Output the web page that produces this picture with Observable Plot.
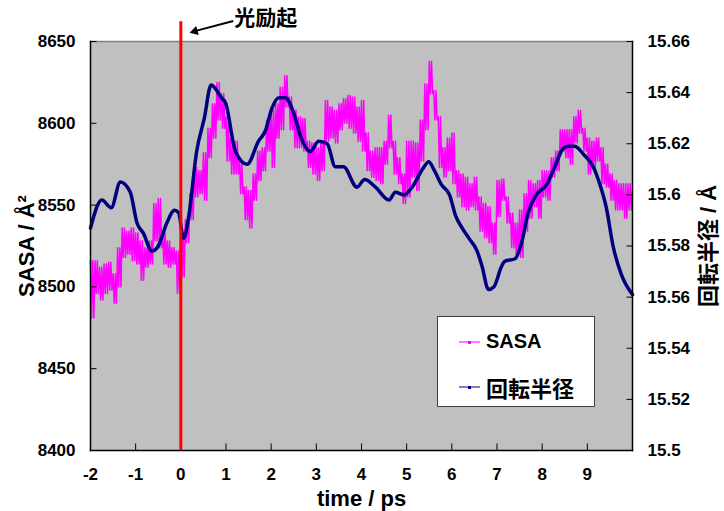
<!DOCTYPE html>
<html>
<head>
<meta charset="utf-8">
<script src="https://cdn.jsdelivr.net/npm/d3@7"></script>
<script src="https://cdn.jsdelivr.net/npm/@observablehq/plot@0.6"></script>
<style>
  html, body { margin: 0; padding: 0; background: #fff; }
  #wrap { position: relative; width: 724px; height: 511px; font-family: "Liberation Sans", "Noto Sans CJK JP", sans-serif; }
  #legend { position: absolute; left: 437px; top: 316px; width: 158px; height: 91px; background: #fff; border: 1px solid #404040; box-sizing: border-box; }
  .row { position: absolute; left: 21px; display: flex; align-items: center; font-weight: bold; color: #000; }
  .row svg { margin-right: 6px; }
</style>
</head>
<body>
<div id="wrap">
  <div id="chart"></div>
  <div id="legend">
    <div class="row" style="top:13px"><svg width="21" height="10"><line x1="0" y1="5" x2="21" y2="5" stroke="#ff00ff" stroke-width="1"/><rect x="9" y="4" width="3" height="3" fill="#ff00ff"/></svg><span id="lg1" style="font-size:20px">SASA</span></div>
    <div class="row" style="top:54px"><svg width="21" height="10"><line x1="0" y1="5" x2="21" y2="5" stroke="#000080" stroke-width="1"/><rect x="9" y="4" width="3" height="3" fill="#000080"/></svg><span id="lg2" style="font-size:22px">回転半径</span></div>
  </div>
</div>
<script>
// ---- data ----
const sasaT = [-2.0,-1.9,-1.8,-1.7,-1.6,-1.5,-1.4,-1.3,-1.2,-1.1,
  -1.0,-0.9,-0.8,-0.7,-0.6,-0.5,-0.4,-0.3,-0.2,-0.1,
  0.0,0.1,0.2,0.3,0.4,0.5,0.6,0.7,0.8,0.9,
  1.0,1.1,1.2,1.3,1.4,1.5,1.6,1.7,1.8,1.9,
  2.0,2.1,2.2,2.3,2.4,2.5,2.6,2.7,2.8,2.9,
  3.0,3.1,3.2,3.3,3.4,3.5,3.6,3.7,3.8,3.9,
  4.0,4.1,4.2,4.3,4.4,4.5,4.6,4.7,4.8,4.9,
  5.0,5.1,5.2,5.3,5.4,5.5,5.6,5.7,5.8,5.9,
  6.0,6.1,6.2,6.3,6.4,6.5,6.6,6.7,6.8,6.9,
  7.0,7.1,7.2,7.3,7.4,7.5,7.6,7.7,7.8,7.9,
  8.0,8.1,8.2,8.3,8.4,8.5,8.6,8.7,8.8,8.9,
  9.0,9.1,9.2,9.3,9.4,9.5,9.6,9.7,9.8,9.9,
  10.0];
// upper and lower edges of the noisy SASA trace
const sasaHi = [8516,8516,8512,8514,8515,8508,8524,8536,8534,8536,
  8533,8528,8524,8528,8551,8554,8533,8528,8524,8522,
  8533,8541,8557,8573,8571,8582,8597,8612,8625,8618,
  8604,8591,8589,8577,8561,8559,8569,8583,8585,8602,
  8608,8612,8622,8629,8616,8608,8604,8603,8589,8588,
  8585,8589,8614,8610,8608,8612,8615,8617,8616,8610,
  8614,8594,8583,8585,8585,8589,8605,8589,8579,8569,
  8589,8589,8588,8602,8624,8638,8620,8604,8585,8591,
  8594,8571,8569,8567,8563,8567,8555,8551,8549,8539,
  8565,8566,8555,8545,8539,8547,8557,8565,8563,8565,
  8571,8571,8579,8583,8596,8596,8596,8604,8608,8597,
  8591,8589,8591,8585,8575,8569,8565,8563,8563,8563,
  8559];
const sasaLo = [8481,8496,8492,8496,8498,8490,8500,8518,8520,8516,
  8514,8504,8512,8514,8528,8524,8514,8512,8514,8496,
  8506,8527,8541,8555,8557,8553,8579,8591,8602,8597,
  8577,8569,8569,8557,8541,8536,8553,8565,8571,8583,
  8573,8591,8596,8610,8596,8585,8585,8583,8573,8569,
  8565,8571,8589,8591,8588,8596,8600,8597,8594,8589,
  8583,8571,8567,8565,8563,8575,8585,8569,8563,8551,
  8555,8567,8559,8577,8596,8618,8602,8573,8567,8571,
  8563,8555,8549,8547,8549,8547,8534,8530,8527,8520,
  8543,8553,8539,8524,8520,8518,8534,8542,8549,8542,
  8555,8553,8567,8571,8583,8579,8575,8588,8594,8583,
  8569,8573,8577,8563,8561,8553,8547,8547,8542,8547,
  8547];
// radius of gyration (Å)
const rgT = [-2.0,-1.75,-1.54,-1.34,-1.12,-0.97,-0.83,-0.64,-0.50,-0.31,
  -0.14,-0.05,0.06,0.17,0.35,0.52,0.67,0.90,0.99,1.21,
  1.47,1.72,1.87,2.02,2.17,2.31,2.50,2.65,2.87,3.05,
  3.24,3.42,3.60,3.90,4.07,4.31,4.61,4.75,4.94,5.12,
  5.35,5.49,5.60,5.77,5.95,6.08,6.23,6.38,6.56,6.67,
  6.81,6.93,7.10,7.17,7.40,7.54,7.69,7.87,8.10,8.28,
  8.46,8.58,8.72,8.91,9.13,9.28,9.42,9.57,9.75,10.0];
const rgV = [15.587,15.598,15.595,15.605,15.601,15.589,15.585,15.578,15.580,15.589,
  15.594,15.593,15.583,15.591,15.617,15.630,15.643,15.638,15.636,15.617,
  15.612,15.621,15.625,15.634,15.638,15.638,15.632,15.623,15.617,15.621,
  15.620,15.611,15.611,15.603,15.606,15.603,15.598,15.601,15.600,15.603,
  15.610,15.613,15.610,15.604,15.600,15.592,15.587,15.583,15.578,15.572,
  15.563,15.564,15.572,15.574,15.575,15.581,15.593,15.600,15.604,15.611,
  15.618,15.619,15.619,15.616,15.611,15.604,15.595,15.580,15.569,15.561];

const xTicks = [-2,-1,0,1,2,3,4,5,6,7,8,9];
const xInnerTicks = [-1,0,1,2,3,4,5,6,7,8,9];
const sasaTicks = [8400,8450,8500,8550,8600,8650];
const rgTickLabels = ["15.5","15.52","15.54","15.56","15.58","15.6","15.62","15.64","15.66"];
const sasaDomain = [8400, 8650];
const rgDomain = [15.5, 15.66];
const exciteTime = 0;
const labels = {x: "time / ps", yLeft: "SASA / Å²", yRight: "回転半径 / Å", note: "光励起"};

// ---- build ----
const rgToSasa = v => sasaDomain[0] + (v - rgDomain[0]) / (rgDomain[1] - rgDomain[0]) * (sasaDomain[1] - sasaDomain[0]);
const rgTickPos = rgTickLabels.map(s => rgToSasa(+s));
const rgLabelMap = new Map(rgTickPos.map((p, i) => [p, rgTickLabels[i]]));

// noisy trace: alternate between read upper and lower edges
const sasaTrace = [];
sasaT.forEach((t, i) => {
  sasaTrace.push({t, v: sasaHi[i]});
  if (i < sasaT.length - 1) {
    sasaTrace.push({t: t + 0.025, v: sasaLo[i]});
    sasaTrace.push({t: t + 0.05, v: sasaHi[i]});
    sasaTrace.push({t: t + 0.075, v: sasaLo[i]});
  }
});
const rgData = rgT.map((t, i) => ({t, v: rgToSasa(rgV[i])}));

const tickRight = {draw(c) { c.moveTo(0, 0); c.lineTo(6, 0); }};
const tickLeft = {draw(c) { c.moveTo(0, 0); c.lineTo(-6, 0); }};
const tickUp = {draw(c) { c.moveTo(0, 0); c.lineTo(0, -7); }};

const font = '"Liberation Sans", "Noto Sans CJK JP", sans-serif';

const chart = Plot.plot({
  width: 724, height: 511,
  marginLeft: 90, marginRight: 92, marginTop: 41, marginBottom: 61,
  x: {domain: [-2, 10]},
  y: {domain: sasaDomain},
  style: {fontFamily: font, background: "#fff", color: "#000", overflow: "visible"},
  marks: [
    Plot.frame({fill: "#c0c0c0", stroke: null}),
    Plot.line(sasaTrace, {x: "t", y: "v", stroke: "#ff00ff", strokeWidth: 1.5}),
    Plot.line(rgData, {x: "t", y: "v", stroke: "#000080", strokeWidth: 3.5, curve: "monotone-x"}),
    Plot.frame({anchor: "top", stroke: "#808080", strokeWidth: 1.5}),
    Plot.frame({anchor: "left", stroke: "#000", strokeWidth: 1.5}),
    Plot.frame({anchor: "right", stroke: "#000", strokeWidth: 1.5}),
    Plot.frame({anchor: "bottom", stroke: "#000", strokeWidth: 1.5}),
    Plot.dot(sasaTicks, {y: d => d, frameAnchor: "left", symbol: tickRight, stroke: "#000", fill: "none", strokeWidth: 1}),
    Plot.dot(rgTickPos, {y: d => d, frameAnchor: "right", symbol: tickLeft, stroke: "#000", fill: "none", strokeWidth: 1}),
    Plot.dot(xInnerTicks, {x: d => d, frameAnchor: "bottom", symbol: tickUp, stroke: "#000", fill: "none", strokeWidth: 1}),
    Plot.axisY(sasaTicks, {anchor: "left", tickSize: 0, tickPadding: 15, fontSize: 17, fontWeight: "bold", label: null, tickFormat: d => String(d)}),
    Plot.axisY(rgTickPos, {anchor: "right", tickSize: 0, tickPadding: 15, fontSize: 17, fontWeight: "bold", label: null, tickFormat: d => rgLabelMap.get(d)}),
    Plot.axisX(xTicks, {anchor: "bottom", tickSize: 0, tickPadding: 17, fontSize: 17, fontWeight: "bold", label: null, tickFormat: d => String(d)}),
    Plot.ruleX([exciteTime], {y1: sasaDomain[0], y2: 8662, stroke: "#ff0000", strokeWidth: 3}),
    Plot.link([{x1: 1.16, y1: 8662.5, x2: 0.33, y2: 8656.5}], {x1: "x1", y1: "y1", x2: "x2", y2: "y2", stroke: "#000", strokeWidth: 2}),
    Plot.dot([{x: 0.31, y: 8656.3}], {x: "x", y: "y", symbol: "triangle2", r: 4.5, fill: "#000", stroke: "none", rotate: 254}),
    Plot.text([labels.note], {x: 1.18, y: 8664, textAnchor: "start", fontSize: 21, fontWeight: "bold"}),
    Plot.text([labels.yLeft], {frameAnchor: "left", textAnchor: "middle", lineAnchor: "middle", rotate: -90, dx: -64, fontSize: 22, fontWeight: "bold"}),
    Plot.text([labels.yRight], {frameAnchor: "right", textAnchor: "middle", lineAnchor: "middle", rotate: -90, dx: 76, fontSize: 22, fontWeight: "bold"}),
    Plot.text([labels.x], {frameAnchor: "bottom", textAnchor: "middle", lineAnchor: "middle", dy: 48, fontSize: 22, fontWeight: "bold"})
  ]
});
document.getElementById("chart").appendChild(chart);
</script>
</body>
</html>
